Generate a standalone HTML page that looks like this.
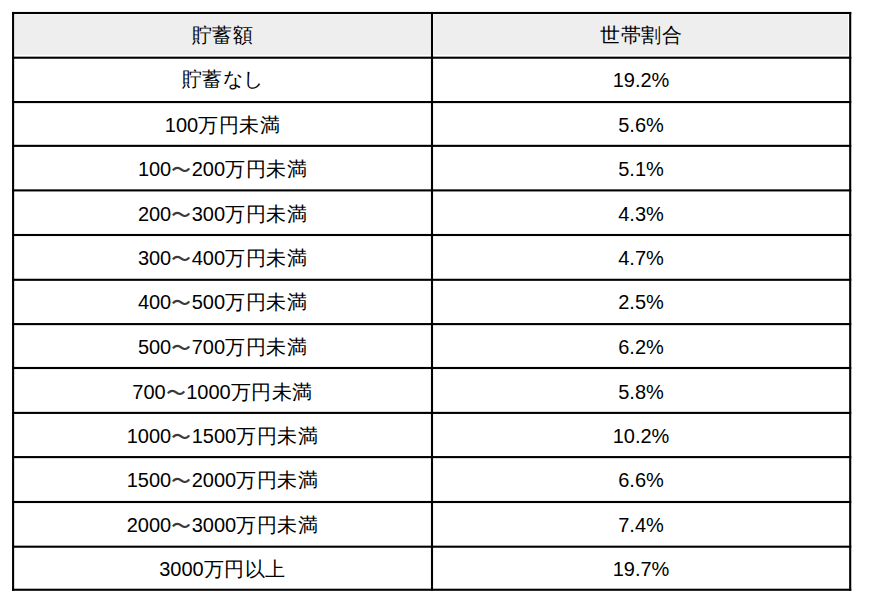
<!DOCTYPE html>
<html lang="ja"><head><meta charset="utf-8"><title>貯蓄額と世帯割合</title><style>
html,body{margin:0;padding:0;background:#fff;}
body{width:870px;height:607px;position:relative;overflow:hidden;font-family:"Liberation Sans",sans-serif;color:#000;}
svg{position:absolute;left:0;top:0;}
.c{position:absolute;height:20px;font-size:20px;line-height:20px;white-space:nowrap;text-align:center;}
.j{letter-spacing:0.5px;}
.w{color:#3a3a3a;position:relative;top:1px;}
.a{left:14px;width:417px;}
.b{left:433px;width:416px;}
</style></head><body>

<svg width="870" height="607" viewBox="0 0 870 607">
<rect x="15" y="15" width="415.5" height="39.9" fill="#eeeeee"/>
<rect x="434" y="15" width="414" height="39.9" fill="#eeeeee"/>
<rect x="12.05" y="11.95" width="839.20" height="2.1" fill="#000"/>
<rect x="12.05" y="56.65" width="839.20" height="2.1" fill="#000"/>
<rect x="12.05" y="101.00" width="839.20" height="2.1" fill="#000"/>
<rect x="12.05" y="144.80" width="839.20" height="2.1" fill="#000"/>
<rect x="12.05" y="189.35" width="839.20" height="2.1" fill="#000"/>
<rect x="12.05" y="233.95" width="839.20" height="2.1" fill="#000"/>
<rect x="12.05" y="278.75" width="839.20" height="2.1" fill="#000"/>
<rect x="12.05" y="323.05" width="839.20" height="2.1" fill="#000"/>
<rect x="12.05" y="366.95" width="839.20" height="2.1" fill="#000"/>
<rect x="12.05" y="411.85" width="839.20" height="2.1" fill="#000"/>
<rect x="12.05" y="456.05" width="839.20" height="2.1" fill="#000"/>
<rect x="12.05" y="500.95" width="839.20" height="2.1" fill="#000"/>
<rect x="12.05" y="545.65" width="839.20" height="2.1" fill="#000"/>
<rect x="12.05" y="588.70" width="839.20" height="2.1" fill="#000"/>
<rect x="12.05" y="11.95" width="2.1" height="578.85" fill="#000"/>
<rect x="430.95" y="11.95" width="2.1" height="578.85" fill="#000"/>
<rect x="849.15" y="11.95" width="2.1" height="578.85" fill="#000"/>
</svg>
<div class="c a" style="top:25px"><span class="j">貯蓄額</span></div>
<div class="c b" style="top:25px"><span class="j">世帯割合</span></div>
<div class="c a" style="top:69px"><span class="j">貯蓄なし</span></div>
<div class="c b" style="top:70px">19.2%</div>
<div class="c a" style="top:115px">100<span class="j">万円未満</span></div>
<div class="c b" style="top:115px">5.6%</div>
<div class="c a" style="top:159px">100<span class="j"><span class="w">〜</span></span>200<span class="j">万円未満</span></div>
<div class="c b" style="top:159px">5.1%</div>
<div class="c a" style="top:204px">200<span class="j"><span class="w">〜</span></span>300<span class="j">万円未満</span></div>
<div class="c b" style="top:204px">4.3%</div>
<div class="c a" style="top:248px">300<span class="j"><span class="w">〜</span></span>400<span class="j">万円未満</span></div>
<div class="c b" style="top:248px">4.7%</div>
<div class="c a" style="top:292px">400<span class="j"><span class="w">〜</span></span>500<span class="j">万円未満</span></div>
<div class="c b" style="top:292px">2.5%</div>
<div class="c a" style="top:337px">500<span class="j"><span class="w">〜</span></span>700<span class="j">万円未満</span></div>
<div class="c b" style="top:337px">6.2%</div>
<div class="c a" style="top:382px">700<span class="j"><span class="w">〜</span></span>1000<span class="j">万円未満</span></div>
<div class="c b" style="top:382px">5.8%</div>
<div class="c a" style="top:426px">1000<span class="j"><span class="w">〜</span></span>1500<span class="j">万円未満</span></div>
<div class="c b" style="top:426px">10.2%</div>
<div class="c a" style="top:470px">1500<span class="j"><span class="w">〜</span></span>2000<span class="j">万円未満</span></div>
<div class="c b" style="top:470px">6.6%</div>
<div class="c a" style="top:515px">2000<span class="j"><span class="w">〜</span></span>3000<span class="j">万円未満</span></div>
<div class="c b" style="top:515px">7.4%</div>
<div class="c a" style="top:559px">3000<span class="j">万円以上</span></div>
<div class="c b" style="top:559px">19.7%</div>
</body></html>
